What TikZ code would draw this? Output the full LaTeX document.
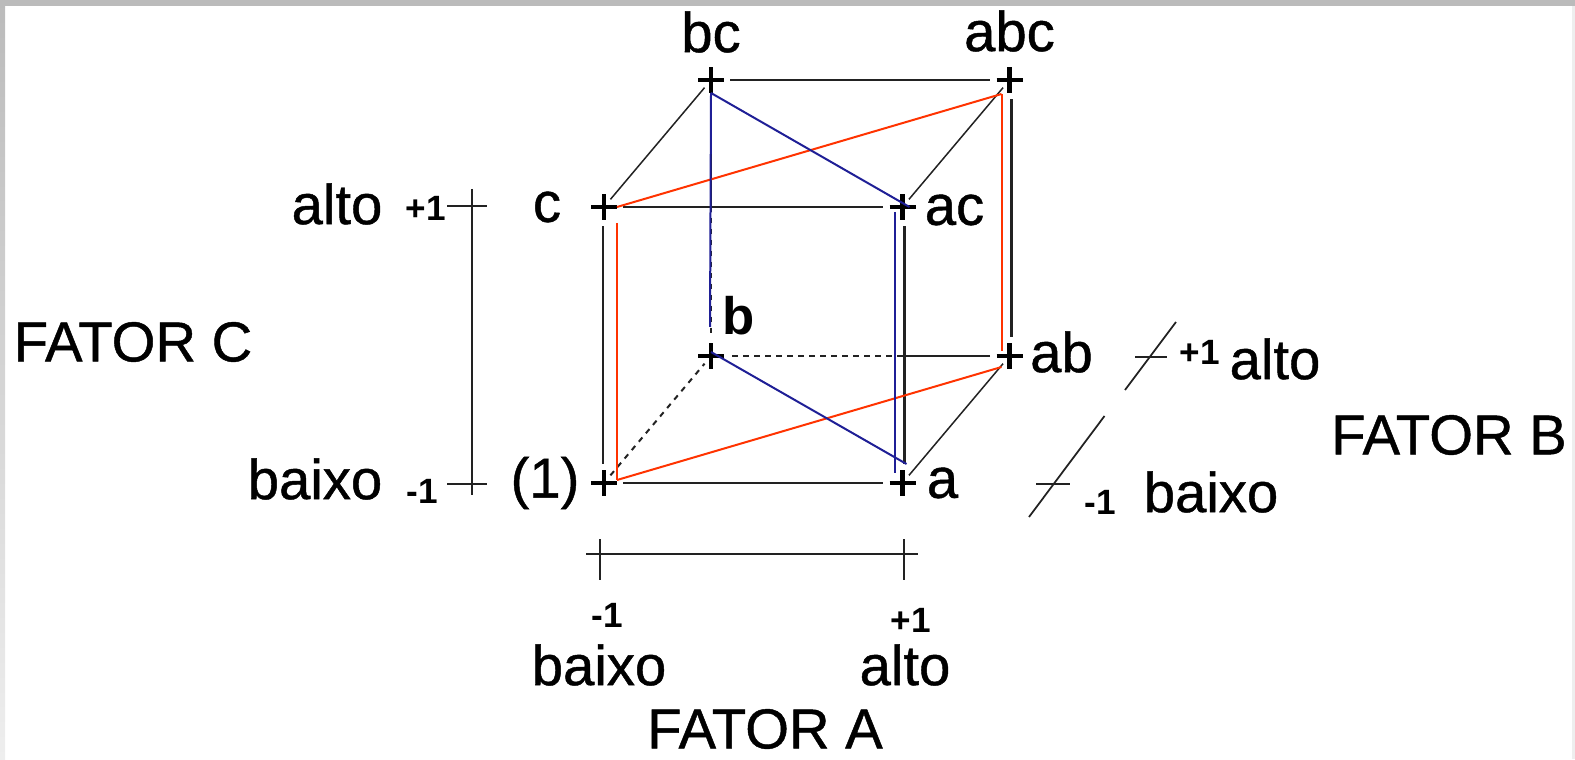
\documentclass[tikz,border=0pt]{standalone}
\usepackage{xcolor}
\usepackage{fontspec}
\setmainfont{Liberation Sans}
\newfontfamily\cubefont[FakeBold=0.8]{Liberation Sans}
\usetikzlibrary{positioning,calc}
\definecolor{cubeInk}{HTML}{222222}
\definecolor{cubeRed}{HTML}{FF3300}
\definecolor{cubeBlue}{HTML}{1F1F96}
\definecolor{frameGray}{HTML}{BBBBBB}
\definecolor{frameLight}{HTML}{EEEEEE}
\tikzset{
  plusmark/.style={rectangle,minimum size=0.76cm,inner sep=0pt,
    path picture={\draw[black,line width=0.09cm] (-0.26,0) -- (0.26,0) (0,-0.26) -- (0,0.26);}},
  cubelabel/.style={inner sep=0pt,text=black,font=\cubefont\fontsize{32}{34}\selectfont},
  boldlabel/.style={inner sep=0pt,text=black,font=\fontsize{30}{32}\selectfont\bfseries},
  numlabel/.style={inner sep=0pt,text=black,font=\fontsize{20}{22}\selectfont\bfseries},
  edgeline/.style={cubeInk,line width=0.055cm},
  sideline/.style={cubeInk,line width=0.03cm,shorten <=0.2cm,shorten >=0.2cm},
  backline/.style={cubeInk,line width=0.04cm,dash pattern=on 0.11cm off 0.11cm},
  axisline/.style={cubeInk,line width=0.035cm},
  redline/.style={cubeRed,line width=0.04cm},
  blueline/.style={cubeBlue,line width=0.04cm}
}
\begin{document}
\begin{tikzpicture}[on grid]
  \useasboundingbox (0,0) rectangle (31.5,15.18);
  % frame
  \fill[frameLight] (31.44,0) rectangle (31.5,15.18);
  \shade[top color=frameGray,bottom color=frameLight] (0,0) rectangle (0.1,15.18);
  \fill[frameGray] (0,15.06) rectangle (31.5,15.18);

  % cube corners
  \node[plusmark] (one) at (12.08,5.52) {};
  \node[plusmark, right=5.97cm of one] (a) {};
  \node[plusmark, above=5.52cm of one] (c) {};
  \node[plusmark, right=5.97cm of c] (ac) {};
  \node[plusmark, above right=2.54cm and 2.14cm of one] (b) {};
  \node[plusmark, right=5.97cm of b] (ab) {};
  \node[plusmark, above=5.52cm of b] (bc) {};
  \node[plusmark, right=5.97cm of bc] (abc) {};

  % corner labels
  \node[cubelabel, above=0.96cm of bc] (bcText) {bc};
  \node[cubelabel, above=0.98cm of abc] (abcText) {abc};
  \node[cubelabel, left=1.14cm of c] (cText) {c};
  \node[cubelabel, right=1.04cm of ac, yshift=-0.06cm] (acText) {ac};
  \node[cubelabel, above right=0.08cm and 1.04cm of ab] (abText) {ab};
  \node[boldlabel, above right=0.8cm and 0.56cm of b] (bText) {b};
  \node[cubelabel, right=0.8cm of a] (aText) {a};
  \node[cubelabel, left=1.18cm of one] (oneText) {(1)};

  % factor C
  \node[numlabel, left=2.42cm of cText, yshift=-0.02cm] (cPlus) {+1};
  \node[cubelabel, left=1.78cm of cPlus, yshift=0.08cm] (cAlto) {alto};
  \node[numlabel, left=2.46cm of oneText, yshift=-0.16cm] (cMinus) {-1};
  \node[cubelabel, left=2.14cm of cMinus, yshift=0.24cm] (cBaixo) {baixo};
  \node[cubelabel] (fatorC) at (2.66,8.34) {FATOR C};

  % factor A
  \node[numlabel] (aMinus) at (12.14,2.88) {-1};
  \node[numlabel] (aPlus) at (18.22,2.78) {+1};
  \node[cubelabel, below=1cm of aMinus, xshift=-0.16cm] (aBaixo) {baixo};
  \node[cubelabel, below=0.9cm of aPlus, xshift=-0.12cm] (aAlto) {alto};
  \node[cubelabel] (fatorA) at (15.3,0.6) {FATOR A};

  % factor B
  \node[numlabel] (bPlus) at (24,8.14) {+1};
  \node[cubelabel, right=1.5cm of bPlus, yshift=-0.14cm] (bAlto) {alto};
  \node[numlabel] (bMinus) at (22,5.14) {-1};
  \node[cubelabel, right=2.22cm of bMinus, yshift=0.2cm] (bBaixo) {baixo};
  \node[cubelabel] (fatorB) at (28.98,6.48) {FATOR B};

  % cube edges
  \coordinate (backX) at (a |- b);
  \coordinate (backY) at (b |- c);
  \draw[edgeline] (bc) -- (abc);
  \draw[edgeline] (c) -- (ac);
  \draw[edgeline] (one) -- (a);
  \draw[edgeline] ([xshift=-0.02cm]c.south) -- ([xshift=-0.02cm]one.north);
  \draw[edgeline] ([xshift=0.04cm]ac.south) -- ([xshift=0.04cm]a.north);
  \draw[edgeline] ([xshift=0.04cm]abc.south) -- ([xshift=0.04cm]ab.north);
  \draw[edgeline] (ab) -- ([xshift=0.04cm]backX);
  \draw[backline] (backX) -- (b);
  \draw[edgeline] (bc) -- (backY);
  \draw[backline] (backY) -- (b);
  \draw[sideline] (c.center) -- (bc.center);
  \draw[sideline] (ac.center) -- (abc.center);
  \draw[sideline] (a.center) -- (ab.center);
  \draw[backline,shorten <=0.2cm,shorten >=0.2cm] (one.center) -- (b.center);

  % red tetrahedron edges
  \coordinate (redC) at ([shift={(0.26,0)}]c.center);
  \coordinate (redCdown) at ([shift={(0.26,-0.32)}]c.center);
  \coordinate (redOne) at ([shift={(0.26,0.06)}]one.center);
  \coordinate (redAbc) at ([shift={(-0.16,-0.28)}]abc.center);
  \coordinate (redAbUp) at ([shift={(-0.16,0.1)}]ab.center);
  \coordinate (redAb) at ([shift={(-0.16,-0.22)}]ab.center);
  \draw[redline] (redC) -- (redAbc);
  \draw[redline] (redAbc) -- (redAbUp);
  \draw[redline] (redCdown) -- (redOne);
  \draw[redline] (redOne) -- (redAb);

  % blue tetrahedron edges
  \coordinate (blueBc) at ([shift={(0,-0.26)}]bc.center);
  \coordinate (blueAc) at ([shift={(0.14,0)}]ac.center);
  \coordinate (blueB) at ([shift={(0,0.08)}]b.center);
  \coordinate (blueBup) at ([shift={(-0.02,0.58)}]b.center);
  \coordinate (blueA) at ([shift={(0.08,0.38)}]a.center);
  \coordinate (blueAcDown) at ([shift={(-0.16,-0.1)}]ac.center);
  \coordinate (blueAup) at ([shift={(-0.16,0.2)}]a.center);
  \draw[blueline] (blueBc) -- (blueAc);
  \draw[blueline] (blueBc) -- (blueBup);
  \draw[blueline] (blueB) -- (blueA);
  \draw[blueline] (blueAcDown) -- (blueAup);

  % factor scales
  \coordinate (scaleCtop) at (9.44,11.4);
  \coordinate (scaleCbot) at (9.44,5.28);
  \coordinate (tickCtopL) at (8.94,11.06);
  \coordinate (tickCtopR) at (9.74,11.06);
  \coordinate (tickCbotL) at (8.94,5.5);
  \coordinate (tickCbotR) at (9.74,5.5);
  \draw[axisline] (scaleCtop) -- (scaleCbot);
  \draw[axisline] (tickCtopL) -- (tickCtopR);
  \draw[axisline] (tickCbotL) -- (tickCbotR);
  \coordinate (scaleAleft) at (11.72,4.1);
  \coordinate (scaleAright) at (18.36,4.1);
  \coordinate (tickAlowT) at (12,4.4);
  \coordinate (tickAlowB) at (12,3.58);
  \coordinate (tickAhighT) at (18.08,4.4);
  \coordinate (tickAhighB) at (18.08,3.58);
  \draw[axisline] (scaleAleft) -- (scaleAright);
  \draw[axisline] (tickAlowT) -- (tickAlowB);
  \draw[axisline] (tickAhighT) -- (tickAhighB);
  \coordinate (scaleBhighT) at (23.52,8.74);
  \coordinate (scaleBhighB) at (22.5,7.38);
  \coordinate (tickBhighL) at (22.7,8.04);
  \coordinate (tickBhighR) at (23.34,8.04);
  \coordinate (scaleBlowT) at (22.09,6.86);
  \coordinate (scaleBlowB) at (20.58,4.84);
  \coordinate (tickBlowL) at (20.72,5.5);
  \coordinate (tickBlowR) at (21.4,5.5);
  \draw[axisline] (scaleBhighT) -- (scaleBhighB);
  \draw[axisline] (tickBhighL) -- (tickBhighR);
  \draw[axisline] (scaleBlowT) -- (scaleBlowB);
  \draw[axisline] (tickBlowL) -- (tickBlowR);
\end{tikzpicture}
\end{document}
